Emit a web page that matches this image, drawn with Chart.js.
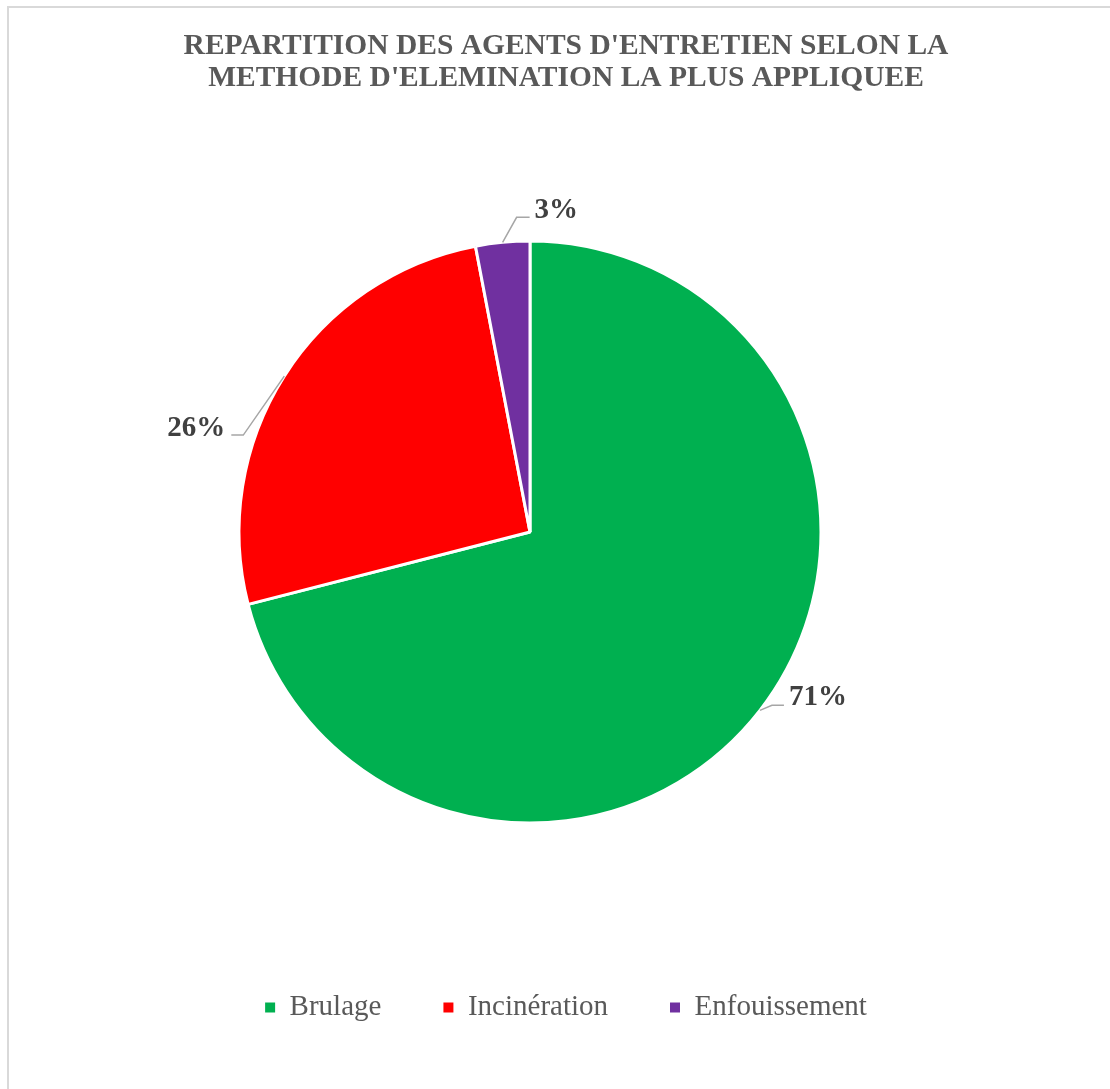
<!DOCTYPE html>
<html>
<head>
<meta charset="utf-8">
<script src="https://cdn.jsdelivr.net/npm/chart.js@4"></script>
<style>
  html, body { margin: 0; padding: 0; background: #ffffff; }
  body { width: 1110px; height: 1089px; position: relative; overflow: hidden; }
  #frame { position: absolute; left: 7px; top: 6px; width: 1200px; height: 1200px;
           border-left: 2px solid #d9d9d9; border-top: 2px solid #d9d9d9; }
  #c { position: absolute; left: 0; top: 0; }
</style>
</head>
<body>
<div id="frame"></div>
<canvas id="c" width="1110" height="1089"></canvas>
<script>
// ---- data ----
const categories = ["Brulage", "Incinération", "Enfouissement"];
const percentValues = [71, 26, 3];
const sliceColors = ["#00B050", "#FF0000", "#7030A0"];
const titleLines = ["REPARTITION DES AGENTS D'ENTRETIEN SELON LA", "METHODE D'ELEMINATION LA PLUS APPLIQUEE"];

// leader line styling per label (offsets from slice edge point)
const leaderStyle = [
  { elbow: [12, -5], run: 12, textDy: -8 },
  { elbow: [-41, 59], run: -12, textDy: -7 },
  { elbow: [14, -25], run: 13, textDy: -7 }
];

Chart.defaults.font.family = "'Liberation Serif', 'Times New Roman', serif";

// spacer box on the right so the pie sits left of the title/legend centre
const spacerPlugin = {
  id: 'spacer',
  beforeUpdate(chart) {
    if (!chart.$spacer) {
      const box = {
        position: 'right', weight: 0, fullSize: false, options: {},
        left: 0, top: 0, right: 0, bottom: 0, width: 0, height: 0,
        isHorizontal() { return false; },
        update(maxW, maxH) { this.width = 72; this.height = maxH; },
        draw() {},
        _layers() { return [{ z: 0, draw() {} }]; }
      };
      chart.boxes.push(box);
      chart.$spacer = box;
    }
  }
};

const labelPlugin = {
  id: 'pieLabels',
  afterDatasetsDraw(chart) {
    const ctx = chart.ctx;
    const meta = chart.getDatasetMeta(0);
    const data = chart.data.datasets[0].data;
    ctx.save();
    meta.data.forEach((arc, i) => {
      const p = arc.getProps(['x', 'y', 'startAngle', 'endAngle', 'outerRadius'], true);
      const mid = (p.startAngle + p.endAngle) / 2;
      const ex = p.x + Math.cos(mid) * p.outerRadius;
      const ey = p.y + Math.sin(mid) * p.outerRadius;
      const st = leaderStyle[i];
      const bx = ex + st.elbow[0], by = ey + st.elbow[1];
      const cx = bx + st.run;
      ctx.strokeStyle = '#a6a6a6';
      ctx.lineWidth = 1.5;
      ctx.beginPath();
      ctx.moveTo(ex, ey);
      ctx.lineTo(bx, by);
      ctx.lineTo(cx, by);
      ctx.stroke();
      ctx.fillStyle = '#404040';
      ctx.font = "bold 29px 'Liberation Serif', 'Times New Roman', serif";
      ctx.textBaseline = 'middle';
      const right = st.run > 0;
      ctx.textAlign = right ? 'left' : 'right';
      ctx.fillText(data[i] + '%', cx + (right ? 5 : -6), by + st.textDy);
    });
    ctx.restore();
  }
};

new Chart(document.getElementById('c'), {
  type: 'pie',
  data: {
    labels: categories,
    datasets: [{
      data: percentValues,
      backgroundColor: sliceColors,
      borderColor: '#ffffff',
      borderWidth: 3
    }]
  },
  options: {
    responsive: false,
    animation: false,
    devicePixelRatio: 1,
    radius: 291,
    layout: { padding: { left: 22, right: 0, top: 0, bottom: 57 } },
    plugins: {
      tooltip: { enabled: false },
      title: {
        display: true,
        text: titleLines,
        color: '#595959',
        font: { size: 29.5, weight: 'bold', lineHeight: 1.085 },
        padding: { top: 30, bottom: 39 }
      },
      legend: {
        display: true,
        position: 'bottom',
        labels: {
          color: '#595959',
          font: { size: 29 },
          boxWidth: 10,
          boxHeight: 10,
          padding: 62,
          generateLabels(chart) {
            const items = Chart.overrides.pie.plugins.legend.labels.generateLabels(chart);
            items.forEach(it => { it.lineWidth = 0; it.strokeStyle = it.fillStyle; });
            return items;
          }
        }
      }
    }
  },
  plugins: [spacerPlugin, labelPlugin]
});
</script>
</body>
</html>
